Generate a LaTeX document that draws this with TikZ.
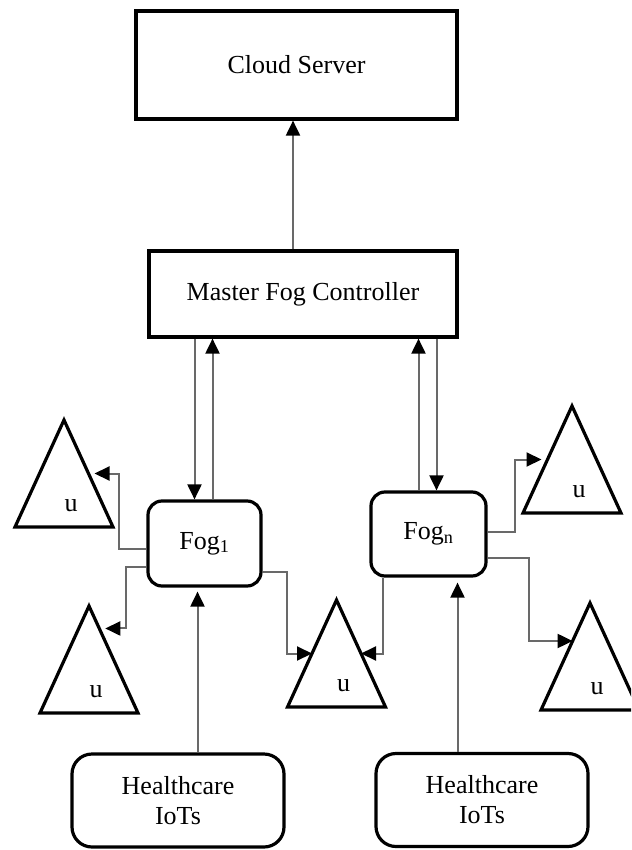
\documentclass[tikz,border=0pt]{standalone}
\usepackage{fontspec}
\setmainfont{Liberation Serif}
\usetikzlibrary{shapes.geometric,arrows.meta,calc}
\definecolor{linkgray}{RGB}{105,105,105}
\begin{document}
\begin{tikzpicture}[x=1pt,y=-1pt,
  font=\fontsize{26}{30}\selectfont,
  box/.style={draw, line width=3.2pt, inner sep=0pt, align=center},
  square/.style={box},
  roundbox/.style={box, rounded corners=14pt},
  tri/.style={draw, line width=3.2pt, isosceles triangle, shape border rotate=90,
    isosceles triangle stretches, minimum width=98pt, minimum height=107pt,
    inner sep=0pt, outer sep=0pt},
  link/.style={draw=linkgray, line width=2pt,
    -{Triangle[length=15pt,width=14pt,color=black,fill=black]}},
]
\useasboundingbox (0,0) rectangle (631,850);
\clip (0,0) rectangle (631,850);

% boxes
\node[square, minimum width=321pt, minimum height=108pt] (cloud) at (296.5,65) {Cloud Server};
\node[square, minimum width=308pt, minimum height=86pt] (master) at (303,294) {Master Fog Controller};
\node[roundbox, minimum width=113pt, minimum height=85pt] (fog1) at (204.5,543.5) {Fog\textsubscript{1}};
\node[roundbox, minimum width=115pt, minimum height=84pt] (fogn) at (428.5,534) {Fog\textsubscript{n}};
\node[roundbox, rounded corners=20pt, minimum width=212pt, minimum height=93pt] (hcl) at (178,800.5) {Healthcare\\IoTs};
\node[roundbox, rounded corners=20pt, minimum width=212pt, minimum height=93pt] (hcr) at (482,800) {Healthcare\\IoTs};

% user triangles
\node[tri, anchor=lower side] (tl) at (64,527) {};
\node[tri, anchor=lower side] (bl) at (89,713) {};
\node[tri, anchor=lower side] (ct) at (336.5,707) {};
\node[tri, anchor=lower side] (tr) at (572,513) {};
\node[tri, anchor=lower side] (br) at (590,710) {};
\foreach \t in {tl,bl,ct,tr,br}
  \node (\t-u) at ([xshift=7pt,yshift=21pt]\t.lower side) {u};

\coordinate (blhit) at ($(bl.apex)!0.21!(bl.right corner)$);
\coordinate (brhit) at ($(br.apex)!0.355!(br.left corner)$);

% master to cloud
\draw[link] ([xshift=-10pt]master.north) -- ([xshift=-10pt]master.north |- cloud.south);

% master <-> fog nodes
\draw[link] ([xshift=-10pt]fog1.north |- master.south) -- ([xshift=-10pt]fog1.north);
\draw[link] ([xshift=8pt]fog1.north) -- ([xshift=8pt]fog1.north |- master.south);
\draw[link] ([xshift=-10pt]fogn.north) -- ([xshift=-10pt]fogn.north |- master.south);
\draw[link] ([xshift=8pt]fogn.north |- master.south) -- ([xshift=8pt]fogn.north);

% fog 1 to users
\draw[link, shorten >=6pt] ([yshift=-5.5pt]fog1.west) -| ([xshift=30pt]tl.right side) -- (tl.right side);
\draw[link, shorten >=6pt] ([yshift=-23.5pt]fog1.west) -| ([xshift=27pt]blhit) -- (blhit);
\draw[link] ([yshift=-28.5pt]fog1.east) -| ([xshift=-25pt]ct.left side) -- (ct.left side);

% fog n to users
\draw[link] ([xshift=-46pt]fogn.south) |- (ct.right side);
\draw[link, shorten >=6pt] ([yshift=2pt]fogn.east) -| ([xshift=-33pt]tr.left side) -- (tr.left side);
\draw[link] ([yshift=-24pt]fogn.east) -| ([xshift=-44pt]brhit) -- (brhit);

% healthcare devices to fog nodes
\draw[link, shorten >=4pt] ([xshift=-7pt]fog1.south |- hcl.north) -- ([xshift=-7pt]fog1.south);
\draw[link, shorten >=5pt] ([xshift=29pt]fogn.south |- hcr.north) -- ([xshift=29pt]fogn.south);
\end{tikzpicture}
\end{document}
